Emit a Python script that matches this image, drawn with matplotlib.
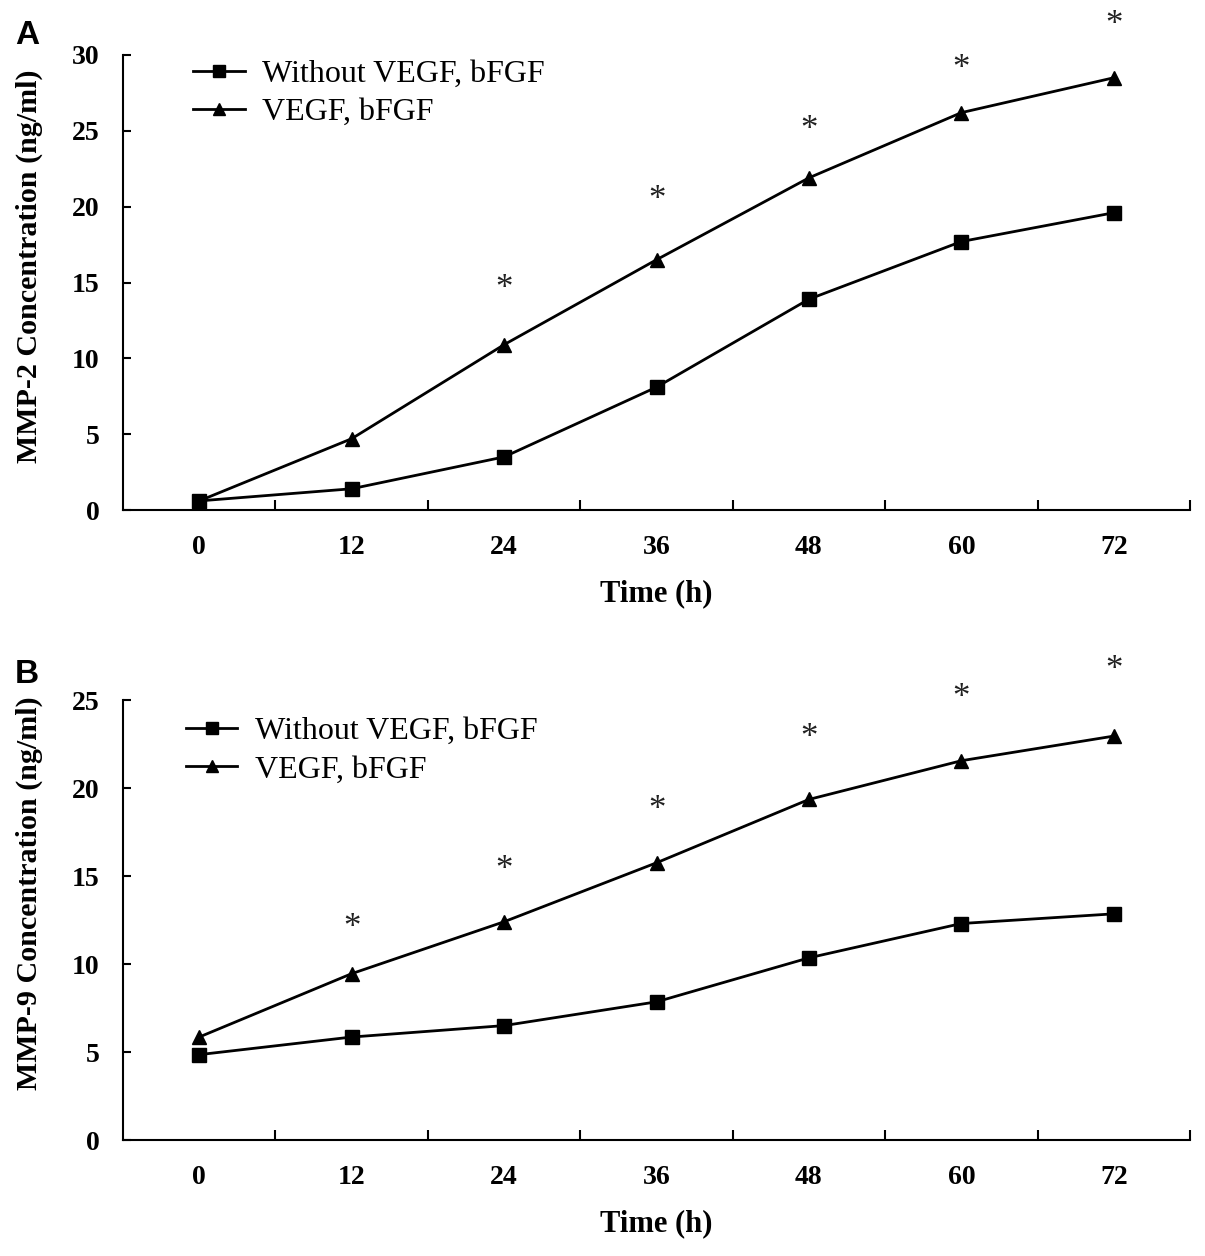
import matplotlib
matplotlib.use('Agg')
import matplotlib.pyplot as plt
from matplotlib.transforms import offset_copy

plt.rcParams['font.family'] = ['Liberation Serif', 'DejaVu Serif']

hours = [0, 12, 24, 36, 48, 60, 72]
series_labels = ['Without VEGF, bFGF', 'VEGF, bFGF']

mmp2_without = [0.6, 1.4, 3.5, 8.1, 13.9, 17.7, 19.6]
mmp2_with = [0.6, 4.7, 10.9, 16.5, 21.9, 26.2, 28.5]
mmp2_star_x = [24, 36, 48, 60, 72]
mmp2_star_y = [15.0, 20.9, 25.5, 29.5, 32.4]

mmp9_without = [4.85, 5.85, 6.5, 7.85, 10.35, 12.3, 12.85]
mmp9_with = [5.85, 9.45, 12.4, 15.75, 19.35, 21.55, 22.95]
mmp9_star_x = [12, 24, 36, 48, 60, 72]
mmp9_star_y = [12.4, 15.7, 19.15, 23.2, 25.5, 27.1]

W, H = 1205, 1256
fig = plt.figure(figsize=(W / 100, H / 100), dpi=100)

panels = [
    # letter, ylabel, y1, y2, stars x, stars y, ymax, axes px (top, bottom), label y, legend pos, letter y px
    ('A', 'MMP-2 Concentration (ng/ml)', mmp2_without, mmp2_with, mmp2_star_x, mmp2_star_y,
     30, (55, 510), 0.536, (0.066, 0.99), 35),
    ('B', 'MMP-9 Concentration (ng/ml)', mmp9_without, mmp9_with, mmp9_star_x, mmp9_star_y,
     25, (700, 1140), 0.56, (0.059, 0.962), 674),
]

left_px, right_px = 123, 1190
for letter, ylab, y1, y2, sx, sy, ymax, (top_px, bot_px), ylab_y, leg_pos, letter_y in panels:
    ax = fig.add_axes([left_px / W, 1 - bot_px / H, (right_px - left_px) / W, (bot_px - top_px) / H])
    ax.plot(hours, y1, color='black', lw=2, marker='s', ms=10, label=series_labels[0], clip_on=False)
    ax.plot(hours, y2, color='black', lw=2, marker='^', ms=10, label=series_labels[1], clip_on=False)

    star_tr = offset_copy(ax.transData, fig=fig, y=-0.45 * 25, units='points')
    for x, y in zip(sx, sy):
        ax.text(x, y, '*', fontsize=25, ha='center', va='baseline', color='#222222',
                transform=star_tr, clip_on=False)

    ax.set_xlim(-6, 78)
    ax.set_ylim(0, ymax)
    ax.set_xticks(hours)
    ax.set_xticklabels([str(h) for h in hours])
    ax.set_xticks([6, 18, 30, 42, 54, 66, 78], minor=True)
    ax.set_yticks(range(0, ymax + 1, 5))
    ax.tick_params(axis='x', which='major', length=0, pad=18)
    ax.tick_params(axis='x', which='minor', direction='in', length=7, width=1.5)
    ax.tick_params(axis='y', direction='in', length=6, width=1.5, pad=17)
    for t in ax.get_xticklabels() + ax.get_yticklabels():
        t.set_fontsize(20)
        t.set_fontweight('bold')

    for s in ['top', 'right']:
        ax.spines[s].set_visible(False)
    for s in ['left', 'bottom']:
        ax.spines[s].set_linewidth(1.5)

    ax.set_xlabel('Time (h)', fontsize=22, fontweight='bold', labelpad=14)
    ax.set_ylabel(ylab, fontsize=21.6, fontweight='bold')
    ax.yaxis.set_label_coords((43 - left_px) / (right_px - left_px), ylab_y)

    ax.legend(loc='upper left', bbox_to_anchor=leg_pos, frameon=False, fontsize=23,
              handlelength=1.6, handletextpad=0.55, labelspacing=0.28,
              borderpad=0, borderaxespad=0, markerscale=0.8)

    fig.text(15 / W, 1 - letter_y / H, letter, fontsize=24, fontweight='bold',
             family='Liberation Sans', ha='left', va='center')

fig.savefig('out.png', dpi=100)
